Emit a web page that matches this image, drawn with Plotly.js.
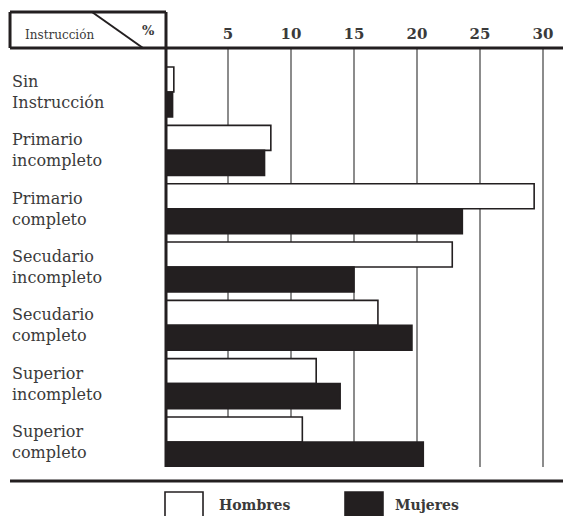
<!DOCTYPE html>
<html>
<head>
<meta charset="utf-8">
<script src="https://cdn.plot.ly/plotly-3.0.1.min.js"></script>
<style>html,body{margin:0;padding:0;background:#fff;}#chart{width:563px;height:516px;}</style>
</head>
<body>
<div id="chart"></div>
<script>
const categories = ["Sin<br>Instrucción","Primario<br>incompleto","Primario<br>completo","Secudario<br>incompleto","Secudario<br>completo","Superior<br>incompleto","Superior<br>completo"];
const hombres = [0.7, 8.4, 29.3, 22.8, 16.9, 12.0, 10.9];
const mujeres = [0.6, 7.9, 23.6, 15.0, 19.6, 13.9, 20.5];
const seriesNames = ["Hombres", "Mujeres"];
const tickValues = [5, 10, 15, 20, 25, 30];
const headerLabel = "Instrucción";
const headerUnit = "%";

const ink = "#231f20";
const serif = "DejaVu Serif, Liberation Serif, serif";

const traces = [
  {type:"bar", orientation:"h", name:seriesNames[0], y:categories, x:hombres,
   marker:{color:"#ffffff", line:{color:ink, width:1.6}}, hoverinfo:"x"},
  {type:"bar", orientation:"h", name:seriesNames[1], y:categories, x:mujeres,
   marker:{color:ink, line:{color:ink, width:1.6}}, hoverinfo:"x"}
];

const shapes = [
  {type:"line", xref:"paper", yref:"paper", x0:-0.3894, x1:1, y0:1, y1:1, line:{color:ink, width:3}},
  {type:"line", xref:"paper", yref:"paper", x0:0.0025, x1:0.0025, y0:1.0859, y1:0, line:{color:ink, width:3}},
  {type:"line", xref:"paper", yref:"paper", x0:-0.3894, x1:0.0025, y0:1.0859, y1:1.0859, line:{color:ink, width:3}},
  {type:"line", xref:"paper", yref:"paper", x0:-0.3894, x1:-0.3894, y0:1.0859, y1:1, line:{color:ink, width:3}},
  {type:"line", xref:"paper", yref:"paper", x0:-0.1834, x1:-0.0553, y0:1.0859, y1:1, line:{color:ink, width:2}},
  {type:"line", xref:"paper", yref:"paper", x0:-0.3894, x1:1, y0:-0.0334, y1:-0.0334, line:{color:ink, width:3}},
  {type:"rect", xref:"paper", yref:"paper", x0:0, x1:0.0955, y0:-0.0597, y1:-0.14, fillcolor:"#ffffff", line:{color:ink, width:1.6}},
  {type:"rect", xref:"paper", yref:"paper", x0:0.4523, x1:0.5477, y0:-0.0597, y1:-0.14, fillcolor:ink, line:{color:ink, width:1.6}}
];

const annotations = categories.map((c) => ({
  text:c, xref:"paper", yref:"y", x:-0.3894, y:c, xanchor:"left", yanchor:"middle",
  align:"left", showarrow:false, font:{family:serif, size:16, color:"#3a3a3a"}
}));
annotations.push(
  {text:headerLabel, xref:"paper", yref:"paper", x:-0.265, y:1.031, xanchor:"center", yanchor:"middle",
   showarrow:false, font:{family:serif, size:12, color:"#3a3a3a"}},
  {text:"<b>"+headerUnit+"</b>", xref:"paper", yref:"paper", x:-0.0427, y:1.0406, xanchor:"center", yanchor:"middle",
   showarrow:false, font:{family:serif, size:13, color:"#3a3a3a"}},
  {text:"<b>"+seriesNames[0]+"</b>", xref:"paper", yref:"paper", x:0.1307, y:-0.0907, xanchor:"left", yanchor:"middle",
   showarrow:false, font:{family:serif, size:14, color:"#3a3a3a"}},
  {text:"<b>"+seriesNames[1]+"</b>", xref:"paper", yref:"paper", x:0.5729, y:-0.0907, xanchor:"left", yanchor:"middle",
   showarrow:false, font:{family:serif, size:14, color:"#3a3a3a"}}
);

const layout = {
  width:563, height:516,
  margin:{l:165, r:0, t:48, b:49},
  paper_bgcolor:"#ffffff", plot_bgcolor:"#ffffff",
  showlegend:false,
  barmode:"group", bargap:0.143, bargroupgap:0,
  xaxis:{side:"top", range:[0, 31.59], tickmode:"array", tickvals:tickValues,
         ticktext:tickValues.map(v => "<b>"+v+"</b>"),
         showgrid:true, gridcolor:"#8c8c8c", gridwidth:2, zeroline:false, showline:false,
         ticks:"", ticklabelstandoff:5, tickfont:{family:serif, size:15, color:"#3a3a3a"}, fixedrange:true},
  yaxis:{type:"category", categoryarray:categories, range:[6.429, -0.755], autorange:false,
         showticklabels:false, showgrid:false, zeroline:false, showline:false, ticks:"", fixedrange:true},
  shapes:shapes, annotations:annotations
};

Plotly.newPlot("chart", traces, layout, {displayModeBar:false, staticPlot:true});
</script>
</body>
</html>
